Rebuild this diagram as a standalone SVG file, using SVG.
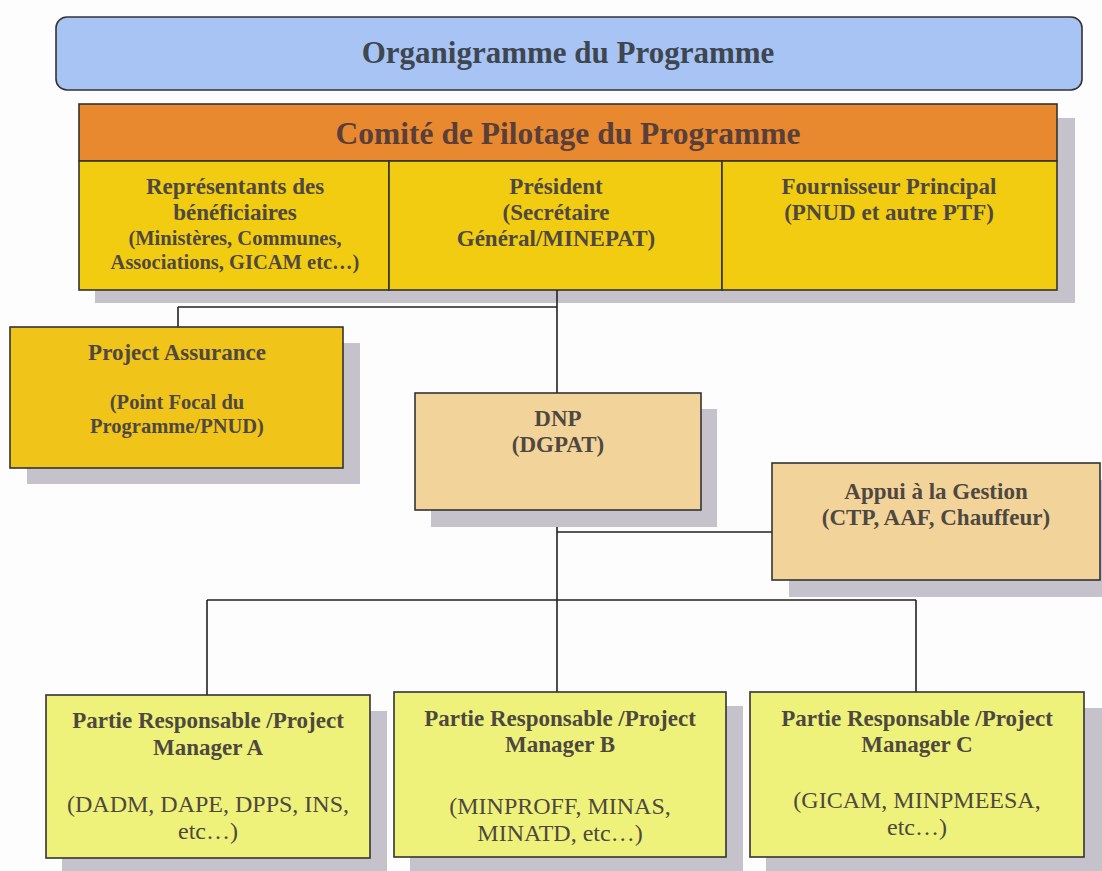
<svg xmlns="http://www.w3.org/2000/svg" width="1102" height="871" viewBox="0 0 1102 871">
<style>
.bx{stroke:#333;stroke-width:1.6}
.sh{fill:#c6c2cc}
.t{font-family:"Liberation Serif",serif;font-weight:bold;fill:#4e4840;text-anchor:middle}
.r{font-family:"Liberation Serif",serif;fill:#4e4840;text-anchor:middle}
.ln{stroke:#222;stroke-width:1.6;fill:none}
</style>
<rect width="1102" height="871" fill="#fdfdfd"/>
<g id="title">
<rect x="56" y="17" width="1026" height="73" rx="11" fill="#a8c4f4" class="bx"/>
<text x="568" y="63" class="t" style="font-size:31px;fill:#3e4650">Organigramme du Programme</text>
</g>
<g id="comite">
<rect x="95" y="118" width="980" height="185" class="sh"/>
<rect x="79" y="104" width="978" height="57" fill="#e8892f" class="bx"/>
<text x="568" y="144" class="t" style="font-size:31.5px;fill:#5a3e3a">Comité de Pilotage du Programme</text>
<rect x="79" y="161" width="310" height="129" fill="#f2cc10" class="bx"/>
<rect x="389" y="161" width="333" height="129" fill="#f2cc10" class="bx"/>
<rect x="722" y="161" width="335" height="129" fill="#f2cc10" class="bx"/>
<text class="t" style="font-size:23px"><tspan x="235" y="194">Représentants des</tspan><tspan x="235" y="220">bénéficiaires</tspan></text>
<text class="t" style="font-size:20.5px"><tspan x="235" y="245">(Ministères, Communes,</tspan><tspan x="235" y="269">Associations, GICAM etc…)</tspan></text>
<text class="t" style="font-size:23px"><tspan x="556" y="194">Président</tspan><tspan x="556" y="220">(Secrétaire</tspan><tspan x="556" y="246">Général/MINEPAT)</tspan></text>
<text class="t" style="font-size:23px"><tspan x="889" y="194">Fournisseur Principal</tspan><tspan x="889" y="220">(PNUD et autre PTF)</tspan></text>
</g>
<g id="connectors">
<path class="ln" d="M557 290V393M178 307H557M178 307V327"/>
<path class="ln" d="M557 510V692M557 532H772M207 600H916M207 600V695M916 600V692"/>
</g>
<g id="assurance">
<rect x="27" y="343" width="333" height="141" class="sh"/>
<rect x="10" y="327" width="333" height="141" fill="#f0c418" class="bx"/>
<text x="177" y="360" class="t" style="font-size:23px">Project Assurance</text>
<text class="t" style="font-size:20.5px"><tspan x="177" y="409">(Point Focal du</tspan><tspan x="177" y="433">Programme/PNUD)</tspan></text>
</g>
<g id="dnp">
<rect x="431" y="409" width="286" height="118" class="sh"/>
<rect x="415" y="393" width="286" height="117" fill="#f2d49b" class="bx"/>
<text class="t" style="font-size:23px"><tspan x="558" y="426">DNP</tspan><tspan x="558" y="452">(DGPAT)</tspan></text>
</g>
<g id="appui">
<rect x="789" y="480" width="313" height="117" class="sh"/>
<rect x="772" y="463" width="328" height="117" fill="#f2d49b" class="bx"/>
<text class="t" style="font-size:23px"><tspan x="936" y="499">Appui à la Gestion</tspan><tspan x="936" y="525">(CTP, AAF, Chauffeur)</tspan></text>
</g>
<g id="pmA">
<rect x="62" y="711" width="325" height="160" class="sh"/>
<rect x="46" y="695" width="324" height="163" fill="#eef27a" class="bx"/>
<text class="t" style="font-size:23px"><tspan x="208" y="728">Partie Responsable /Project</tspan><tspan x="208" y="755">Manager A</tspan></text>
<text class="r" style="font-size:24px"><tspan x="208" y="812">(DADM, DAPE, DPPS, INS,</tspan><tspan x="208" y="839">etc…)</tspan></text>
</g>
<g id="pmB">
<rect x="410" y="706" width="333" height="165" class="sh"/>
<rect x="394" y="692" width="332" height="165" fill="#eef27a" class="bx"/>
<text class="t" style="font-size:23px"><tspan x="560" y="726">Partie Responsable /Project</tspan><tspan x="560" y="752">Manager B</tspan></text>
<text class="r" style="font-size:24px"><tspan x="560" y="814">(MINPROFF, MINAS,</tspan><tspan x="560" y="841">MINATD, etc…)</tspan></text>
</g>
<g id="pmC">
<rect x="766" y="708" width="336" height="163" class="sh"/>
<rect x="750" y="692" width="334" height="165" fill="#eef27a" class="bx"/>
<text class="t" style="font-size:23px"><tspan x="917" y="726">Partie Responsable /Project</tspan><tspan x="917" y="752">Manager C</tspan></text>
<text class="r" style="font-size:24px"><tspan x="917" y="808">(GICAM, MINPMEESA,</tspan><tspan x="917" y="835">etc…)</tspan></text>
</g>
</svg>
